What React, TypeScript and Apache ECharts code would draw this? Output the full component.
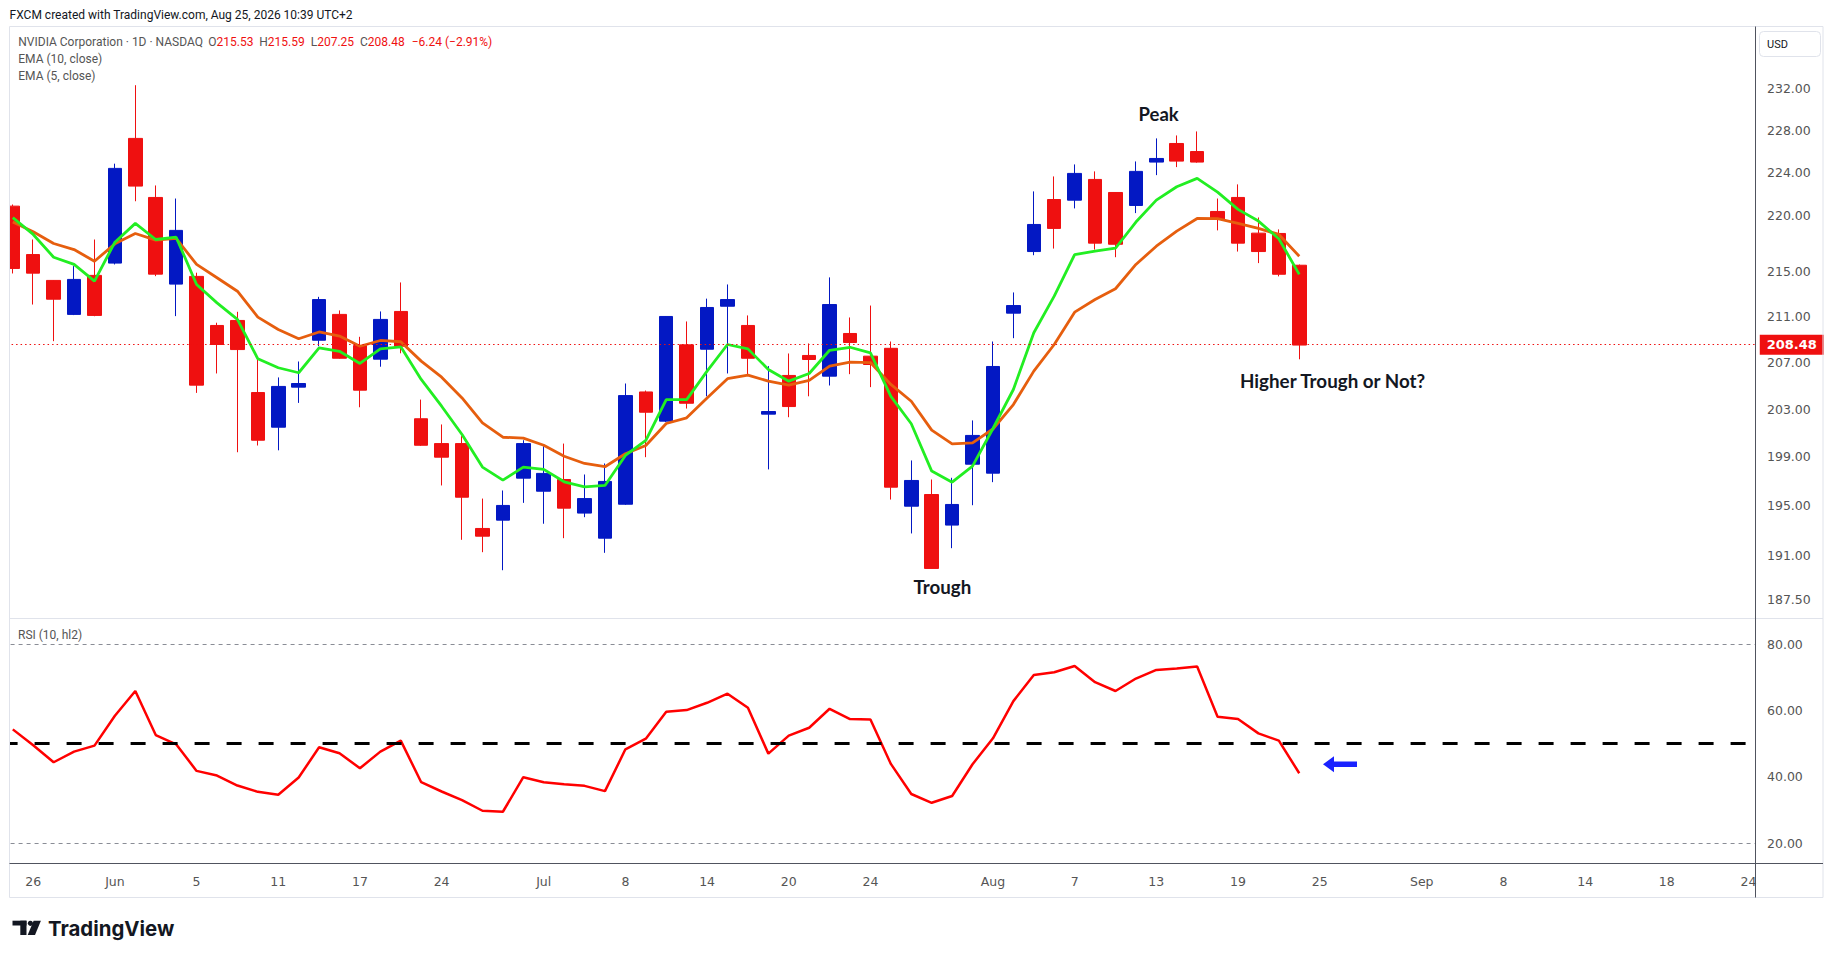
import React, { useEffect, useRef } from "react";
import * as echarts from "echarts";

// ---------- data ----------
const dates = [
  "2026-05-22", "2026-05-26", "2026-05-27", "2026-05-28", "2026-05-29",
  "2026-06-01", "2026-06-02", "2026-06-03", "2026-06-04", "2026-06-05",
  "2026-06-08", "2026-06-09", "2026-06-10", "2026-06-11", "2026-06-12",
  "2026-06-15", "2026-06-16", "2026-06-17", "2026-06-18", "2026-06-22",
  "2026-06-23", "2026-06-24", "2026-06-25", "2026-06-26", "2026-06-29",
  "2026-06-30", "2026-07-01", "2026-07-02", "2026-07-06", "2026-07-07",
  "2026-07-08", "2026-07-09", "2026-07-10", "2026-07-13", "2026-07-14",
  "2026-07-15", "2026-07-16", "2026-07-17", "2026-07-20", "2026-07-21",
  "2026-07-22", "2026-07-23", "2026-07-24", "2026-07-27", "2026-07-28",
  "2026-07-29", "2026-07-30", "2026-07-31", "2026-08-03", "2026-08-04",
  "2026-08-05", "2026-08-06", "2026-08-07", "2026-08-10", "2026-08-11",
  "2026-08-12", "2026-08-13", "2026-08-14", "2026-08-17", "2026-08-18",
  "2026-08-19", "2026-08-20", "2026-08-21", "2026-08-24", "2026-08-25",
  "2026-08-26", "2026-08-27", "2026-08-28", "2026-08-31", "2026-09-01",
  "2026-09-02", "2026-09-03", "2026-09-04", "2026-09-08", "2026-09-09",
  "2026-09-10", "2026-09-11", "2026-09-14", "2026-09-15", "2026-09-16",
  "2026-09-17", "2026-09-18", "2026-09-21", "2026-09-22", "2026-09-23",
  "2026-09-24",
];

const opens = [
  220.9, 216.49, 214.17, 211.16, 214.62, 215.72, 227.22, 221.7, 213.84, 214.53,
  210.19, 210.63, 204.4, 201.47, 204.86, 208.9, 211.16, 208.44, 207.26, 211.42,
  202.18, 200.1, 200.1, 193.15, 193.82, 197.24, 196.17, 197.13, 194.39, 192.37,
  195.11, 204.45, 201.98, 208.5, 208.12, 211.88, 210.19, 202.57, 205.86, 207.58,
  205.8, 209.49, 207.52, 208.2, 194.95, 195.9, 193.42, 198.39, 197.65, 211.27,
  216.76, 221.51, 221.45, 223.37, 222.16, 220.96, 224.99, 226.74, 225.98, 220.41,
  221.7, 218.43, 218.4, 215.53,
];
const highs = [
  221.05, 217.85, 214.2, 215.45, 217.85, 224.84, 232.31, 222.81, 221.6, 214.86,
  210.43, 211.39, 207.23, 205.69, 207.06, 212.71, 211.51, 209.2, 211.42, 213.99,
  203.8, 201.7, 200.72, 195.57, 196.23, 200.38, 199.88, 200.1, 197.54, 198.45,
  205.17, 204.57, 211.0, 210.54, 212.55, 213.81, 211.07, 206.66, 207.75, 208.62,
  214.44, 210.89, 211.94, 208.79, 198.7, 197.13, 197.27, 202.04, 208.79, 213.1,
  222.26, 223.65, 224.77, 224.12, 222.2, 225.05, 227.22, 227.5, 227.88, 221.6,
  222.91, 219.86, 218.77, 215.59,
];
const lows = [
  214.79, 212.03, 208.82, 211.1, 211.0, 215.6, 221.35, 214.55, 211.01, 204.37,
  206.03, 199.38, 199.94, 199.54, 203.52, 208.38, 207.3, 203.15, 206.61, 207.77,
  199.9, 196.64, 192.24, 191.25, 189.82, 195.22, 193.53, 192.37, 194.06, 191.2,
  195.05, 198.97, 201.9, 203.04, 204.08, 206.03, 205.92, 197.96, 202.31, 204.08,
  205.0, 205.97, 204.86, 195.49, 192.75, 189.95, 191.57, 195.03, 196.91, 209.08,
  216.43, 217.03, 220.69, 216.94, 216.25, 220.26, 223.77, 224.52, 224.93, 218.68,
  216.76, 215.72, 214.53, 207.25,
];
const closes = [
  215.24, 214.82, 212.5, 214.26, 211.07, 224.4, 222.75, 214.73, 218.68, 205.03,
  208.53, 208.09, 200.38, 204.92, 205.17, 212.47, 207.34, 204.6, 210.72, 208.38,
  199.96, 198.97, 195.68, 192.53, 195.01, 200.1, 197.63, 194.79, 195.57, 196.97,
  204.14, 202.73, 210.98, 203.49, 211.77, 212.47, 207.34, 202.79, 203.21, 207.23,
  212.03, 208.7, 206.8, 196.5, 197.05, 189.96, 195.09, 200.78, 206.63, 211.94,
  219.22, 218.86, 223.93, 217.52, 217.42, 224.12, 225.33, 225.08, 224.99, 219.68,
  217.52, 216.76, 214.72, 208.48,
];

const ema10 = [
  219.44, 218.56, 217.49, 216.94, 215.89, 217.46, 218.4, 217.79, 217.95, 215.6,
  214.41, 213.21, 210.92, 209.84, 209.03, 209.62, 209.26, 208.38, 208.88, 208.77,
  207.09, 205.71, 203.94, 201.84, 200.63, 200.55, 199.96, 199.05, 198.45, 198.18,
  199.25, 199.94, 201.78, 202.26, 203.94, 205.58, 205.89, 205.37, 205.03, 205.43,
  206.66, 207.0, 206.97, 205.09, 203.66, 201.22, 200.08, 200.16, 201.32, 203.38,
  206.23, 208.53, 211.36, 212.47, 213.43, 215.6, 217.24, 218.61, 219.77, 219.75,
  219.32, 218.86, 218.31, 216.34,
];
const ema5 = [
  219.84, 218.31, 216.25, 215.6, 214.11, 217.61, 219.32, 217.85, 218.06, 213.81,
  212.18, 210.72, 207.29, 206.52, 206.09, 208.24, 207.94, 206.89, 208.15, 208.33,
  205.52, 203.24, 200.86, 198.15, 197.08, 198.15, 197.96, 196.94, 196.53, 196.64,
  199.11, 200.36, 203.8, 203.8, 206.23, 208.53, 208.15, 206.37, 205.37, 206.03,
  208.03, 208.29, 207.81, 204.08, 201.76, 197.82, 196.91, 198.23, 201.36, 204.66,
  209.55, 212.77, 216.49, 216.79, 217.06, 219.44, 221.45, 222.69, 223.47, 222.19,
  220.6, 219.53, 217.92, 214.71,
];
const rsi = [
  54.3, 49.5, 44.4, 47.6, 49.4, 58.4, 65.85, 52.6, 49.8, 41.8,
  40.4, 37.4, 35.5, 34.6, 39.8, 48.9, 47.1, 42.6, 47.6, 50.9,
  38.4, 35.6, 33.0, 29.8, 29.5, 39.9, 38.4, 37.8, 37.3, 35.7,
  48.3, 51.5, 59.6, 60.1, 62.3, 65.05, 60.8, 47.0, 52.4, 54.8,
  60.5, 57.4, 57.3, 43.9, 34.85, 32.2, 34.25, 43.8, 51.6, 62.8,
  70.7, 71.5, 73.4, 68.5, 65.85, 69.6, 72.2, 72.6, 73.2, 58.1,
  57.4, 53.1, 50.9, 41.1,
];

const priceTicks = [232, 228, 224, 220, 215, 211, 207, 203, 199, 195, 191, 187.5];
const rsiTicks = [20, 40, 60, 80];
const rsiBands = [80, 20];
const rsiMid = [50];
const xTickDates = [
  "2026-05-26", "2026-06-01", "2026-06-05", "2026-06-11", "2026-06-17",
  "2026-06-24", "2026-07-01", "2026-07-08", "2026-07-14", "2026-07-20",
  "2026-07-24", "2026-08-03", "2026-08-07", "2026-08-13", "2026-08-19",
  "2026-08-25", "2026-09-01", "2026-09-08", "2026-09-14", "2026-09-18",
  "2026-09-24",
];
const xTickLabels = [
  "26", "Jun", "5", "11", "17", "24", "Jul", "8", "14", "20", "24",
  "Aug", "7", "13", "19", "25", "Sep", "8", "14", "18", "24",
];

// ---------- styles ----------
const RED = "#ef1010";
const BLUE = "#0318c3";
const GREEN = "#22ee22";
const ORANGE = "#e65e0e";
const RSI_RED = "#ff0000";
const TEXT = "#131722";
const AXIS_TEXT = "#555555";
const FRAME = "#e0e3eb";
const AXIS_LINE = "#50535e";

export default function App() {
  const ref = useRef<HTMLDivElement>(null);

  useEffect(() => {
    const el = ref.current;
    if (!el) return;
    const chart = echarts.init(el, null, { renderer: "svg" });

    const BW = 20.42;
    const L = 2.59;
    const N = dates.length;
    const GW = N * BW;
    const gridRight = L + GW;
    const priceTop = 26.7;
    const priceBottom = 618;
    const rsiBottom = 863.5;
    const axisX = 1755.5;

    const ln = Math.log;
    const candleData = opens.map((o, i) => [ln(o), ln(closes[i]), ln(lows[i]), ln(highs[i])]);
    const lastClose = closes[closes.length - 1];
    const prevClose = closes[closes.length - 2];
    const change = lastClose - prevClose;
    const pct = (change / prevClose) * 100;

    const labelByDate: Record<string, string> = {};
    xTickDates.forEach((d, i) => (labelByDate[d] = xTickLabels[i]));
    const tickIdx = new Set(xTickDates.map((d) => dates.indexOf(d)));

    const legendFont = "Roboto";
    const legendSize = 12;
    const g = { fill: AXIS_TEXT, fontSize: legendSize, fontFamily: legendFont };
    const r = { fill: RED, fontSize: legendSize, fontFamily: legendFont };
    const ohlc = [
      ["O", opens[opens.length - 1], 208.3],
      ["H", highs[highs.length - 1], 259.3],
      ["L", lows[lows.length - 1], 310.7],
      ["C", lastClose, 360],
    ] as [string, number, number][];

    const graphics: any[] = [
      // covers for the band overhang outside the pane
      { type: "rect", z: 50, silent: true, shape: { x: 0, y: priceTop - 1, width: 9.5, height: 875 }, style: { fill: "#fff" } },
      { type: "rect", z: 50, silent: true, shape: { x: axisX, y: priceTop - 1, width: gridRight - axisX + 0.5, height: rsiBottom - priceTop + 1 }, style: { fill: "#fff" } },
      // frame
      { type: "rect", z: 60, silent: true, shape: { x: 9.5, y: 26.5, width: 1813.5, height: 871 }, style: { fill: "none", stroke: FRAME, lineWidth: 1 } },
      { type: "line", z: 60, silent: true, shape: { x1: 9.5, y1: 618.5, x2: 1823, y2: 618.5 }, style: { stroke: FRAME, lineWidth: 1 } },
      { type: "line", z: 60, silent: true, shape: { x1: 9.5, y1: 863.5, x2: 1823, y2: 863.5 }, style: { stroke: AXIS_LINE, lineWidth: 1 } },
      { type: "line", z: 60, silent: true, shape: { x1: axisX, y1: 26.5, x2: axisX, y2: 897.5 }, style: { stroke: AXIS_LINE, lineWidth: 1 } },
      // USD box
      { type: "rect", z: 60, silent: true, shape: { x: 1759.5, y: 31.5, width: 61, height: 25, r: 4 }, style: { fill: "#fff", stroke: FRAME, lineWidth: 1 } },
      { type: "text", z: 61, silent: true, x: 1767, y: 44.5, style: { text: "USD", fill: TEXT, fontSize: 11, fontFamily: "Roboto", verticalAlign: "middle" } },
      // header
      { type: "text", z: 61, silent: true, x: 9.6, y: 15, style: { text: "FXCM created with TradingView.com, Aug 25, 2026 10:39 UTC+2", fill: TEXT, fontSize: 12, fontFamily: legendFont, verticalAlign: "middle" } },
      // legend
      { type: "text", z: 61, silent: true, x: 18.3, y: 42.3, style: { text: "NVIDIA Corporation · 1D · NASDAQ", fill: AXIS_TEXT, fontSize: legendSize, fontFamily: legendFont, verticalAlign: "middle" } },
      ...ohlc.map(([k, v, x]) => ({
        type: "text", z: 61, silent: true, x, y: 42.3,
        style: { text: `{g|${k}}{r|${v.toFixed(2)}}`, rich: { g, r }, verticalAlign: "middle" },
      })),
      { type: "text", z: 61, silent: true, x: 411.7, y: 42.3, style: { text: `\u2212${Math.abs(change).toFixed(2)} (\u2212${Math.abs(pct).toFixed(2)}%)`, fill: RED, fontSize: legendSize, fontFamily: legendFont, verticalAlign: "middle" } },
      { type: "text", z: 61, silent: true, x: 18.3, y: 59.3, style: { text: "EMA (10, close)", fill: AXIS_TEXT, fontSize: legendSize, fontFamily: legendFont, verticalAlign: "middle" } },
      { type: "text", z: 61, silent: true, x: 18.3, y: 75.5, style: { text: "EMA (5, close)", fill: AXIS_TEXT, fontSize: legendSize, fontFamily: legendFont, verticalAlign: "middle" } },
      { type: "text", z: 61, silent: true, x: 18, y: 635, style: { text: "RSI (10, hl2)", fill: AXIS_TEXT, fontSize: legendSize, fontFamily: legendFont, verticalAlign: "middle" } },
      // annotations
      { type: "text", z: 61, silent: true, x: 1138.5, y: 114, style: { text: "Peak", fill: TEXT, fontSize: 18.5, fontWeight: "bold", fontFamily: "Lato", verticalAlign: "middle" } },
      { type: "text", z: 61, silent: true, x: 913.5, y: 587, style: { text: "Trough", fill: TEXT, fontSize: 18.7, fontWeight: "bold", fontFamily: "Lato", verticalAlign: "middle" } },
      { type: "text", z: 61, silent: true, x: 1240, y: 380, style: { text: "Higher Trough or Not?", fill: TEXT, fontSize: 18.8, fontWeight: "bold", fontFamily: "Lato", verticalAlign: "middle" } },
      // arrow
      {
        type: "polygon", z: 61, silent: true,
        shape: { points: [[1323, 764.3], [1334, 756.3], [1334, 761.5], [1357, 761.5], [1357, 767.1], [1334, 767.1], [1334, 772.3]] },
        style: { fill: "#1a22ff" },
      },
      // TradingView logo
      { type: "rect", z: 61, silent: true, shape: { x: 12.5, y: 920.7, width: 14, height: 4.8 }, style: { fill: TEXT } },
      { type: "rect", z: 61, silent: true, shape: { x: 20.3, y: 920.7, width: 6.2, height: 14.3 }, style: { fill: TEXT } },
      { type: "circle", z: 61, silent: true, shape: { cx: 30.4, cy: 923.3, r: 2.6 }, style: { fill: TEXT } },
      { type: "polygon", z: 61, silent: true, shape: { points: [[33.6, 920.7], [40.9, 920.7], [35, 935], [27.7, 935]] }, style: { fill: TEXT } },
      { type: "text", z: 61, silent: true, x: 48, y: 928, style: { text: "TradingView", fill: TEXT, fontSize: 20.4, fontWeight: "bold", fontFamily: "Inter", verticalAlign: "middle" } },
    ];

    const option: any = {
      animation: false,
      backgroundColor: "#ffffff",
      graphic: { elements: graphics },
      grid: [
        { left: L, top: priceTop, width: GW, height: priceBottom - priceTop, outerBoundsMode: "none" },
        { left: L, top: priceBottom, width: GW, height: rsiBottom - priceBottom, outerBoundsMode: "none" },
      ],
      xAxis: [
        {
          type: "category", gridIndex: 0, data: dates, boundaryGap: true,
          axisLine: { show: false }, axisTick: { show: false }, axisLabel: { show: false }, splitLine: { show: false },
        },
        {
          type: "category", gridIndex: 1, data: dates, boundaryGap: true,
          axisLine: { show: false }, axisTick: { show: false }, splitLine: { show: false },
          axisLabel: {
            show: true,
            interval: (idx: number) => tickIdx.has(idx),
            formatter: (v: string) => labelByDate[v] || "",
            color: AXIS_TEXT, fontSize: 12.5, fontFamily: "DejaVu Sans", margin: 11,
          },
        },
      ],
      yAxis: [
        {
          type: "value", gridIndex: 0, position: "right",
          min: ln(186.08), max: ln(238.04),
          axisLine: { show: false }, axisTick: { show: false }, splitLine: { show: false },
          axisLabel: {
            customValues: priceTicks.map((t) => ln(t)),
            formatter: (v: number) => Math.exp(v).toFixed(2),
            color: AXIS_TEXT, fontSize: 12.5, fontFamily: "DejaVu Sans", margin: 1767 - gridRight,
          },
        },
        {
          type: "value", gridIndex: 1, position: "right",
          min: 13.92, max: 87.83,
          axisLine: { show: false }, axisTick: { show: false }, splitLine: { show: false },
          axisLabel: {
            customValues: rsiTicks,
            formatter: (v: number) => v.toFixed(2),
            color: AXIS_TEXT, fontSize: 12.5, fontFamily: "DejaVu Sans", margin: 1767 - gridRight,
          },
        },
      ],
      series: [
        {
          type: "candlestick", name: "NVDA", xAxisIndex: 0, yAxisIndex: 0,
          data: candleData, barWidth: 14,
          itemStyle: { color: BLUE, color0: RED, borderColor: BLUE, borderColor0: RED, borderWidth: 1 },
          markLine: {
            silent: true, symbol: "none", animation: false,
            lineStyle: { color: RED, type: [1.5, 3], width: 1 },
            label: {
              show: true, position: "end", distance: 1,
              formatter: lastClose.toFixed(2),
              color: "#fff", backgroundColor: RED, padding: [4, 7, 3, 7],
              fontSize: 13, fontWeight: "bold", fontFamily: "DejaVu Sans",
            },
            data: [{ yAxis: ln(lastClose) }],
          },
        },
        {
          type: "line", name: "EMA10", xAxisIndex: 0, yAxisIndex: 0,
          data: ema10.map((v) => ln(v)), showSymbol: false, symbol: "none",
          lineStyle: { color: ORANGE, width: 2.8 }, z: 3,
        },
        {
          type: "line", name: "EMA5", xAxisIndex: 0, yAxisIndex: 0,
          data: ema5.map((v) => ln(v)), showSymbol: false, symbol: "none",
          lineStyle: { color: GREEN, width: 2.8 }, z: 4,
        },
        {
          type: "line", name: "RSI", xAxisIndex: 1, yAxisIndex: 1,
          data: rsi, showSymbol: false, symbol: "none",
          lineStyle: { color: RSI_RED, width: 2.5 }, z: 4,
          markLine: {
            silent: true, symbol: "none", animation: false, label: { show: false },
            data: [
              ...rsiBands.map((v) => ({ yAxis: v, lineStyle: { color: "#8a8d96", type: [4, 4], width: 1 } })),
              ...rsiMid.map((v) => ({ yAxis: v, lineStyle: { color: "#000", type: [15, 17], width: 3 } })),
            ],
          },
        },
      ],
    };

    chart.setOption(option);
    return () => chart.dispose();
  }, []);

  return (
    <div
      ref={ref}
      style={{ position: "fixed", left: 0, top: 0, width: 1835, height: 959, background: "#fff" }}
    />
  );
}
